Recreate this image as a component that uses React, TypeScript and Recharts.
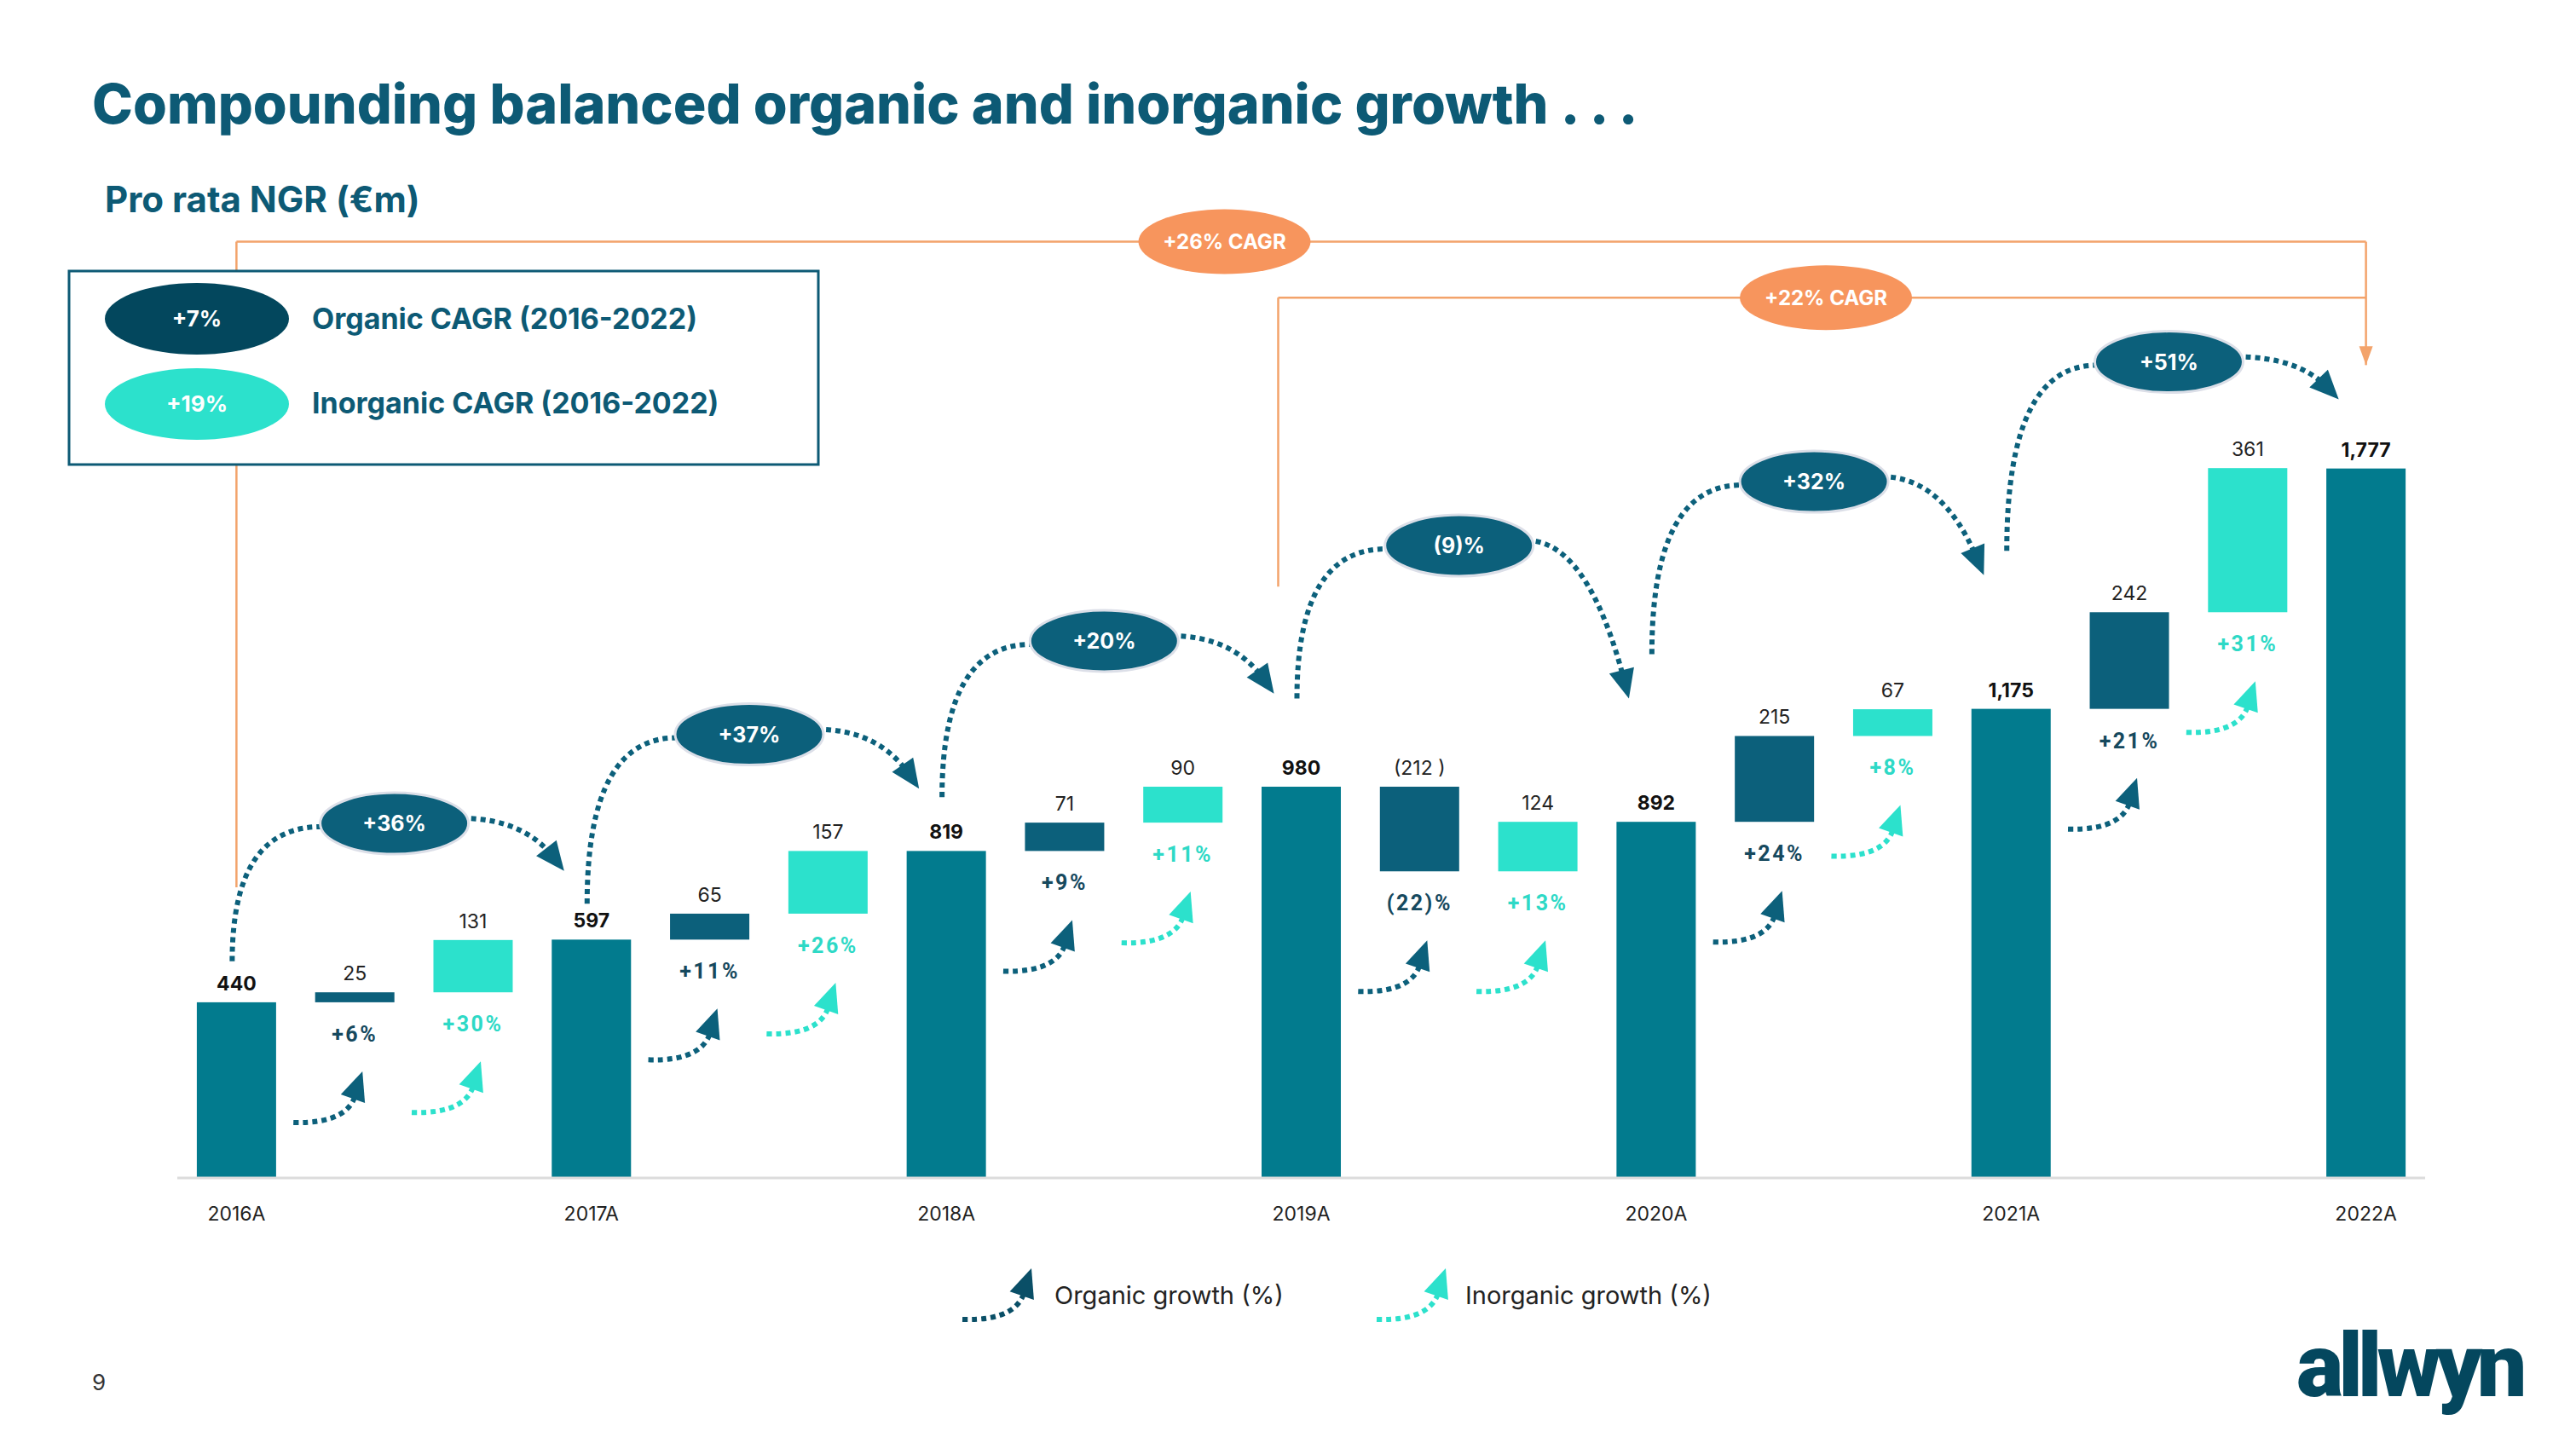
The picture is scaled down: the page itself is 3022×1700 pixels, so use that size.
import React from 'react';
import { BarChart, Bar, XAxis, YAxis, ReferenceLine } from 'recharts';

const years = ['2016A', '2017A', '2018A', '2019A', '2020A', '2021A', '2022A'];
const totals = [440, 597, 819, 980, 892, 1175, 1777];
const organic = [25, 65, 71, -212, 215, 242];
const inorganic = [131, 157, 90, 124, 67, 361];
const organicPct = ['+6%', '+11%', '+9%', '(22)%', '+24%', '+21%'];
const inorganicPct = ['+30%', '+26%', '+11%', '+13%', '+8%', '+31%'];
const yoyGrowth = ['+36%', '+37%', '+20%', '(9)%', '+32%', '+51%'];
const cagrBadges = ['+7%', '+19%'];
const cagrLegend = ['Organic CAGR (2016-2022)', 'Inorganic CAGR (2016-2022)'];
const cagrBrackets = ['+26% CAGR', '+22% CAGR'];

// levels (in €m on the value axis) of the hand drawn year-on-year arcs
const arcStart = [543, 687, 954, 1201, 1312, 1571];
const arcPeak = [888, 1111, 1345, 1584, 1744, 2044];
const arcEnd = [769, 975, 1213, 1201, 1510, 1950];
// orange CAGR brackets
const bracketTop = [2345, 2205];
const bracketFoot = [728, 1481];
const bracketArrowTip = 2036;

const GAP = 0.165;
const COLORS: any = { total: '#027B8E', organic: '#0C607B', inorganic: '#2CE1CC' };
const PCT_COLORS: any = { organic: '#16495E', inorganic: '#2ED9C6' };
const ORANGE = '#F3A36B';
const NAVY = '#0D5A75';

type Row = { name: string; kind: string; range: [number, number]; text: string; pct: string; step: number };

const rows: Row[] = [];
years.forEach((yr, i) => {
    rows.push({ name: yr, kind: 'total', range: [0, totals[i]], text: totals[i].toLocaleString('en-US'), pct: '', step: i });
    if (i < organic.length) {
        const t = totals[i];
        const o = organic[i];
        rows.push({
            name: yr + ' organic', kind: 'organic',
            range: [Math.min(t, t + o), Math.max(t, t + o)],
            text: o < 0 ? `(${-o} )` : String(o), pct: organicPct[i], step: i,
        });
        const s = t + o;
        rows.push({
            name: yr + ' inorganic', kind: 'inorganic',
            range: [s, s + inorganic[i]],
            text: String(inorganic[i]), pct: inorganicPct[i], step: i,
        });
    }
});

function norm(dx: number, dy: number) {
    const l = Math.sqrt(dx * dx + dy * dy) || 1;
    return [dx / l, dy / l];
}

function arrowHead(tx: number, ty: number, u: number[], L: number, W: number, fill: string) {
    const bx = tx - u[0] * L;
    const by = ty - u[1] * L;
    const nx = -u[1] * W / 2;
    const ny = u[0] * W / 2;
    return <path d={`M${tx},${ty} L${bx + nx},${by + ny} L${bx - nx},${by - ny} Z`} fill={fill} />;
}

// little dotted "growth" arrow under the pct labels
function smallArrow(cx: number, ly: number, color: string, k = 1) {
    const tip = [cx + 9 * k, ly + 44 * k];
    const u = norm(0.35, -1);
    const L = 34 * k;
    const bx = tip[0] - u[0] * L * 0.6;
    const by = tip[1] - u[1] * L * 0.6;
    const tail = [cx - 72 * k, ly + 104 * k];
    return (
        <g>
            <path d={`M${tail[0]},${tail[1]} Q${bx - 4 * k},${tail[1] + 2 * k} ${bx},${by}`}
                fill="none" stroke={color} strokeWidth={6 * k} strokeDasharray={`${6 * k} ${5 * k}`} />
            {arrowHead(tip[0], tip[1], u, L, 30 * k, color)}
        </g>
    );
}

function Badge({ cx, cy, rx, ry, fill, text, stroke, fontSize = 25 }: any) {
    return (
        <g>
            <ellipse cx={cx} cy={cy} rx={rx} ry={ry} fill={fill} stroke={stroke || 'none'} strokeWidth={3} />
            <text x={cx} y={cy + fontSize * 0.36} textAnchor="middle" fontSize={fontSize} fontWeight={700}
                fill="#fff" fontFamily="Inter, sans-serif">{text}</text>
        </g>
    );
}

function yearArc(x: number, y: number, width: number, height: number, i: number) {
    const baseline = y + height;
    const ppu = height / totals[i];
    const slot = width / (1 - 2 * GAP);
    const lvl = (v: number) => baseline - v * ppu;
    const cxL = x + width / 2;
    const cxR = cxL + 3 * slot;
    const sx = cxL - 5, sy = lvl(arcStart[i]);
    const ex = (cxL + cxR) / 2 - 23, ey = lvl(arcPeak[i]);
    const rx = 87, ry = 36;
    const tx = cxR - 32, ty = lvl(arcEnd[i]);
    const r0x = ex + rx - 8, r0y = ey - 6;
    const c2x = r0x + 0.6 * (tx - r0x), c2y = r0y;
    const u = norm(tx - c2x, ty - c2y);
    const col = COLORS.organic;
    return (
        <g>
            <path d={`M${sx},${sy} Q${sx},${ey} ${ex - rx + 6},${ey + 4}`} fill="none" stroke={col}
                strokeWidth={6} strokeDasharray="6 5" />
            <path d={`M${r0x},${r0y} Q${c2x},${c2y} ${tx - u[0] * 20},${ty - u[1] * 20}`} fill="none" stroke={col}
                strokeWidth={6} strokeDasharray="6 5" />
            {arrowHead(tx, ty, u, 34, 30, col)}
            <Badge cx={ex} cy={ey} rx={rx} ry={ry} fill={col} stroke="#DCDFE8" text={yoyGrowth[i]} />
        </g>
    );
}

function WaterfallBar(props: any) {
    const { x, y, width, height } = props;
    const row: Row = props.payload && props.payload.kind ? props.payload : rows[props.index];
    const cx = x + width / 2;
    const isTotal = row.kind === 'total';
    return (
        <g>
            <rect x={x} y={y} width={width} height={height} fill={COLORS[row.kind]} />
            <text x={cx} y={y - 14} textAnchor="middle" fontSize={23} fontWeight={isTotal ? 700 : 400}
                fill={isTotal ? '#111' : '#222'} fontFamily="Inter, sans-serif">{row.text}</text>
            {!isTotal && (
                <g>
                    <text x={cx} y={y + height + 46} textAnchor="middle" fontSize={25} fontWeight={700}
                        letterSpacing={2.5} fill={PCT_COLORS[row.kind]} fontFamily="Roboto, sans-serif">{row.pct}</text>
                    {smallArrow(cx, y + height + 37, row.kind === 'organic' ? COLORS.organic : COLORS.inorganic)}
                </g>
            )}
            {isTotal && row.step < yoyGrowth.length && yearArc(x, y, width, height, row.step)}
        </g>
    );
}

function BracketLine(props: any) {
    const { badge, dx, arrow, shift = 0 } = props;
    const x1 = props.x1 + shift;
    const x2 = badge ? props.x2 : props.x2 + shift;
    const { y1, y2 } = props;
    return (
        <g>
            <line x1={x1} y1={y1} x2={x2} y2={y2} stroke={ORANGE} strokeWidth={2.5} />
            {arrow && arrowHead(x2, y2, norm(x2 - x1, y2 - y1), 22, 16, ORANGE)}
            {badge && (
                <Badge cx={(props.x1 + props.x2) / 2 + dx} cy={y1} rx={101} ry={38} fill="#F7955D" text={badge} fontSize={24} />
            )}
        </g>
    );
}

export default function App() {
    const first = years[0];
    const last = years[years.length - 1];
    const mid = years[3];
    return (
        <div style={{ position: 'absolute', left: 0, top: 0, width: 3022, height: 1700, background: '#fff', overflow: 'hidden' }}>
            <div style={{ position: 'absolute', left: 0, top: 0 }}>
                <BarChart
                    width={3022}
                    height={1700}
                    data={rows}
                    margin={{ top: 211, right: 177, bottom: 258, left: 208 }}
                    barCategoryGap={`${GAP * 100}%`}
                >
                    <XAxis
                        dataKey="name"
                        interval={2}
                        tickLine={false}
                        tickSize={0}
                        tickMargin={34}
                        height={60}
                        axisLine={{ stroke: '#DCDCDC', strokeWidth: 3 }}
                        tick={{ fontSize: 23, fill: '#222', fontFamily: 'Inter, sans-serif' }}
                    />
                    <YAxis hide width={0} domain={[0, 2500]} allowDataOverflow />
                    <ReferenceLine segment={[{ x: first, y: bracketFoot[0] }, { x: first, y: bracketTop[0] }]}
                        shape={(p: any) => <BracketLine {...p} />} />
                    <ReferenceLine segment={[{ x: mid, y: bracketFoot[1] }, { x: mid, y: bracketTop[1] }]}
                        shape={(p: any) => <BracketLine {...p} shift={-27} />} />
                    <ReferenceLine segment={[{ x: last, y: bracketTop[0] }, { x: last, y: bracketArrowTip }]}
                        shape={(p: any) => <BracketLine {...p} arrow />} />
                    <ReferenceLine segment={[{ x: first, y: bracketTop[0] }, { x: last, y: bracketTop[0] }]}
                        shape={(p: any) => <BracketLine {...p} badge={cagrBrackets[0]} dx={-90} />} />
                    <ReferenceLine segment={[{ x: mid, y: bracketTop[1] }, { x: last, y: bracketTop[1] }]}
                        shape={(p: any) => <BracketLine {...p} badge={cagrBrackets[1]} dx={-9} shift={-27} />} />
                    <Bar dataKey="range" isAnimationActive={false} shape={(p: any) => <WaterfallBar {...p} />} />
                </BarChart>
            </div>
            <svg width={3022} height={1700} style={{ position: 'absolute', left: 0, top: 0, pointerEvents: 'none' }}
                fontFamily="Inter, sans-serif">
                <text x={108} y={145} fontSize={64.5} fontWeight={800} fill={NAVY}>
                    Compounding balanced organic and inorganic growth . . .
                </text>
                <text x={123} y={249} fontSize={42} fontWeight={700} fill={NAVY}>Pro rata NGR (€m)</text>
                <rect x={81} y={318} width={879} height={227} fill="#fff" stroke={NAVY} strokeWidth={3} />
                <Badge cx={231} cy={374} rx={108} ry={42} fill="#03475D" text={cagrBadges[0]} fontSize={26} />
                <Badge cx={231} cy={474} rx={108} ry={42} fill={COLORS.inorganic} text={cagrBadges[1]} fontSize={26} />
                <text x={366} y={386} fontSize={34} fontWeight={700} fill={NAVY}>{cagrLegend[0]}</text>
                <text x={366} y={485} fontSize={34} fontWeight={700} fill={NAVY}>{cagrLegend[1]}</text>
                <g transform="translate(1100,1475)">
                    {smallArrow(101, -31, '#0A4F67', 1)}
                    <text x={137} y={55} fontSize={29} fill="#222">Organic growth (%)</text>
                    {smallArrow(587, -31, COLORS.inorganic, 1)}
                    <text x={619} y={55} fontSize={29} fill="#222">Inorganic growth (%)</text>
                </g>
                <text x={108} y={1631} fontSize={26} fill="#333">9</text>
                <text x={2694} y={1638} fontSize={104} fontWeight={900} letterSpacing={-6}
                    fontFamily="Roboto, sans-serif" fill="#04475E">allwyn</text>
            </svg>
        </div>
    );
}
